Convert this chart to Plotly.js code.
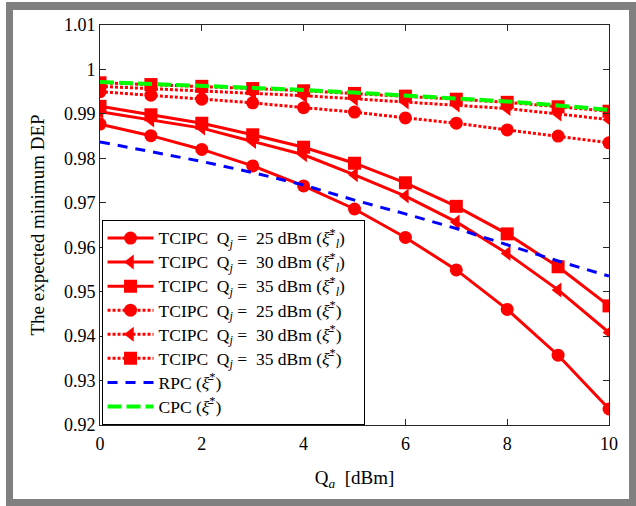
<!DOCTYPE html>
<html>
<head>
<meta charset="utf-8">
<script src="https://cdn.plot.ly/plotly-3.0.1.min.js"></script>
<style>
  html, body { margin: 0; padding: 0; background: #ffffff; width: 636px; height: 506px; overflow: hidden; }
  #frame { position: absolute; left: 6px; top: 2px; width: 630px; height: 504px; background: #808080; }
  #chart { position: absolute; left: 13px; top: 10px; width: 616px; height: 489px; background: #ffffff; }
</style>
</head>
<body>
<div id="frame"></div>
<div id="chart"></div>
<script>
// Q_a [dBm]
const qa = [0, 1, 2, 3, 4, 5, 6, 7, 8, 9, 10];

// TCIPC, xi_l* (solid)
const tcipc25_l = [0.9877, 0.9851, 0.9820, 0.9783, 0.9738, 0.9686, 0.9622, 0.9549, 0.9460, 0.9357, 0.9236];
const tcipc30_l = [0.9905, 0.9886, 0.9868, 0.9838, 0.9808, 0.9763, 0.9715, 0.9657, 0.9586, 0.9504, 0.9408];
const tcipc35_l = [0.9917, 0.9898, 0.9879, 0.9853, 0.9825, 0.9789, 0.9745, 0.9692, 0.9630, 0.9556, 0.9468];

// TCIPC, xi* (dotted)
const tcipc25 = [0.9950, 0.9942, 0.9933, 0.9925, 0.9914, 0.9904, 0.9891, 0.9879, 0.9864, 0.9850, 0.9835];
const tcipc30 = [0.9962, 0.9957, 0.9952, 0.9947, 0.9941, 0.9934, 0.9927, 0.9920, 0.9912, 0.9900, 0.9887];
const tcipc35 = [0.9970, 0.9966, 0.9962, 0.9957, 0.9952, 0.9946, 0.9940, 0.9933, 0.9926, 0.9916, 0.9906];

// Benchmarks
const rpc = [0.9837, 0.9815, 0.9793, 0.9768, 0.9740, 0.9706, 0.9675, 0.9642, 0.9606, 0.9569, 0.9535];
const cpc = [0.9972, 0.9968, 0.9964, 0.9959, 0.9954, 0.9948, 0.9942, 0.9935, 0.9928, 0.9919, 0.9909];

const yTickVals = [0.92, 0.93, 0.94, 0.95, 0.96, 0.97, 0.98, 0.99, 1.00, 1.01];
const yTickText = ["0.92", "0.93", "0.94", "0.95", "0.96", "0.97", "0.98", "0.99", "1", "1.01"];
const xTickVals = [0, 2, 4, 6, 8, 10];

const S = "\u00a0";
const XIBAR = "<i>\u03be\u0304</i>";
const XIL = XIBAR + "<sup>*</sup><sub><i>l</i></sub>";
const XI = XIBAR + "<sup>*</sup>";
function big(t) { return "<span style=\"font-size:17.5px\">" + t + "</span>"; }
function lbl(q, xi, pad) {
  return big("TCIPC" + S + S + "Q<sub><i>j</i></sub>" + S + "=" + S + S + q + S + "dBm" + S + "(" + xi + ")" + pad);
}

const RED = "#ff0000";
function tr(y, name, dash, symbol) {
  return {
    x: qa, y: y, name: name, type: "scatter", mode: "lines+markers",
    line: { color: RED, width: 3, dash: dash },
    marker: { color: RED, size: 13, symbol: symbol, line: { width: 0 } }
  };
}

const PAD = S + S + S;
const data = [
  tr(tcipc25_l, lbl(25, XIL, PAD), "solid", "circle"),
  tr(tcipc30_l, lbl(30, XIL, PAD), "solid", "triangle-left"),
  tr(tcipc35_l, lbl(35, XIL, PAD), "solid", "square"),
  tr(tcipc25, lbl(25, XI, ""), "3px,2px", "circle"),
  tr(tcipc30, lbl(30, XI, ""), "3px,2px", "triangle-left"),
  tr(tcipc35, lbl(35, XI, ""), "3px,2px", "square"),
  { x: qa, y: rpc, name: big("RPC" + S + "(" + XI + ")"), type: "scatter", mode: "lines",
    line: { color: "#0000ff", width: 3, dash: "10px,8px" } },
  { x: qa, y: cpc, name: big("CPC" + S + "(" + XI + ")"), type: "scatter", mode: "lines",
    line: { color: "#00ff00", width: 4, dash: "14px,5px" } }
];

const FONT = "Liberation Serif, Times New Roman, serif";
const layout = {
  width: 616, height: 489,
  margin: { l: 86.5, r: 19.7, t: 15, b: 74, pad: 0 },
  paper_bgcolor: "#ffffff", plot_bgcolor: "#ffffff",
  font: { family: FONT, size: 18, color: "#000000" },
  showlegend: true,
  legend: {
    x: 0.003, y: 0.0, xanchor: "left", yanchor: "bottom",
    bgcolor: "#ffffff", bordercolor: "#000000", borderwidth: 1,
    font: { family: FONT, size: 16.2, color: "#000000" },
    itemwidth: 46, tracegroupgap: 0
  },
  xaxis: {
    range: [0, 10], tickvals: xTickVals, ticks: "inside", ticklen: 6,
    tickcolor: "#262626", showline: true, linecolor: "#262626", linewidth: 1,
    mirror: "ticks", showgrid: false, zeroline: false,
    tickfont: { family: FONT, size: 18 }, ticklabelstandoff: 2,
    title: { text: "Q<sub><i>a</i></sub>" + S + S + "[dBm]", font: { family: FONT, size: 19 }, standoff: 18 }
  },
  yaxis: {
    range: [0.92, 1.01], tickvals: yTickVals, ticktext: yTickText, ticks: "inside", ticklen: 6,
    tickcolor: "#262626", showline: true, linecolor: "#262626", linewidth: 1,
    mirror: "ticks", showgrid: false, zeroline: false,
    tickfont: { family: FONT, size: 18 },
    title: { text: "The expected minimum DEP", font: { family: FONT, size: 19 }, standoff: 14 }
  }
};

Plotly.newPlot("chart", data, layout, { displayModeBar: false, staticPlot: true });
</script>
</body>
</html>
